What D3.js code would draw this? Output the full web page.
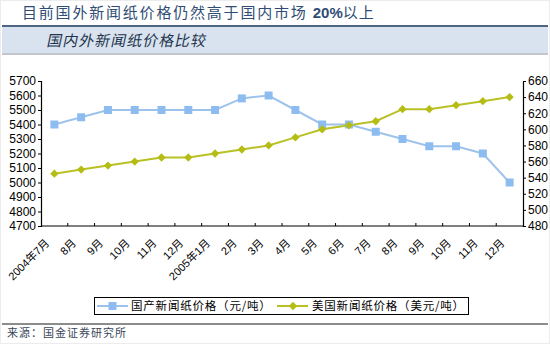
<!DOCTYPE html>
<html>
<head>
<meta charset="utf-8">
<script src="https://cdn.jsdelivr.net/npm/d3@7/dist/d3.min.js"></script>
<style>
  html, body { margin: 0; padding: 0; background: #fff; }
  svg { display: block; }
</style>
</head>
<body>
<svg id="chart" width="550" height="344"></svg>
<script>
// Newsprint prices, Jul 2004 – Dec 2005
const months = ["2004年7月", "8月", "9月", "10月", "11月", "12月",
  "2005年1月", "2月", "3月", "4月", "5月", "6月", "7月", "8月", "9月", "10月", "11月", "12月"];
// Domestic newsprint price (yuan / ton), left axis
const domesticPrice = [5400, 5450, 5500, 5500, 5500, 5500, 5500, 5580, 5600, 5500,
  5400, 5400, 5350, 5300, 5250, 5250, 5200, 5000];
// US newsprint price (USD / ton), right axis
const usPrice = [545, 550, 555, 560, 565, 565, 570, 575, 580, 590,
  600, 605, 610, 625, 625, 630, 635, 640];
const leftTicks = d3.range(4700, 5701, 100);
const rightTicks = d3.range(480, 661, 20);
const seriesNames = ["国产新闻纸价格（元/吨）", "美国新闻纸价格（美元/吨）"];

const svg = d3.select("#chart");
const W = 550, H = 344;
const cjk = "'Noto Sans CJK SC', 'Noto Sans', sans-serif";
const latin = "'Liberation Sans', Arial, 'Noto Sans CJK SC', sans-serif";

// Page frame
svg.append("rect").attr("x", 0.5).attr("y", 0.5).attr("width", W - 1).attr("height", H - 1)
  .attr("fill", "#fff").attr("stroke", "#ececec");

// Heading
const head = svg.append("text").attr("x", 22).attr("y", 18)
  .attr("font-family", cjk).attr("font-size", 15).attr("letter-spacing", 1.8)
  .attr("fill", "#2f4d74");
head.append("tspan").text("目前国外新闻纸价格仍然高于国内市场 ");
head.append("tspan").attr("font-family", latin).attr("font-weight", "bold").attr("letter-spacing", 0).text("20%");
head.append("tspan").attr("letter-spacing", 1).text("以上");

svg.append("rect").attr("x", 2).attr("y", 25).attr("width", W - 4).attr("height", 2).attr("fill", "#4f6682");
svg.append("rect").attr("x", 2).attr("y", 27).attr("width", W - 4).attr("height", 26).attr("fill", "#d8e3ef");
svg.append("rect").attr("x", 2).attr("y", 53).attr("width", W - 4).attr("height", 2).attr("fill", "#c3c6ca");
svg.append("text").attr("x", 47).attr("y", 46)
  .attr("font-family", cjk).attr("font-size", 15)
  .attr("letter-spacing", 1).attr("fill", "#24344c")
  .attr("transform", "translate(9,0) skewX(-12)")
  .text("国内外新闻纸价格比较");

// Plot geometry
const plot = { l: 41, r: 523, t: 81, b: 226 };

const x = d3.scaleBand().domain(d3.range(months.length)).range([plot.l, plot.r]);
const yL = d3.scaleLinear().domain([4700, 5700]).range([plot.b, plot.t]);
const yR = d3.scaleLinear().domain([480, 660]).range([plot.b, plot.t]);
const cx = i => x(i) + x.bandwidth() / 2;

// Left axis
const axL = svg.append("g").attr("transform", `translate(${plot.l},0)`)
  .call(d3.axisLeft(yL).tickValues(leftTicks).tickSize(3).tickPadding(2).tickFormat(d3.format("d")));
// Right axis
const axR = svg.append("g").attr("transform", `translate(${plot.r},0)`)
  .call(d3.axisRight(yR).tickValues(rightTicks).tickSize(3).tickPadding(2).tickFormat(d3.format("d")));
[axL, axR].forEach(g => {
  g.select(".domain").attr("stroke", "#000").attr("stroke-width", 1.2);
  g.selectAll(".tick line").attr("stroke", "#000");
  g.selectAll(".tick text").attr("font-family", latin).attr("font-size", 12).attr("fill", "#000");
});

// Category axis: inward ticks at band boundaries
const xg = svg.append("g");
xg.append("line").attr("x1", plot.l).attr("x2", plot.r).attr("y1", plot.b).attr("y2", plot.b)
  .attr("stroke", "#000").attr("stroke-width", 1.2);
xg.selectAll("line.tk").data(d3.range(1, months.length)).join("line").attr("class", "tk")
  .attr("x1", i => x(i)).attr("x2", i => x(i))
  .attr("y1", plot.b).attr("y2", plot.b - 3).attr("stroke", "#000");
xg.selectAll("text").data(months).join("text")
  .attr("transform", (d, i) => `translate(${cx(i) - 7},${plot.b + 15}) rotate(-45)`)
  .attr("text-anchor", "end").attr("dy", "0.35em")
  .attr("font-family", latin).attr("font-size", 11).attr("fill", "#000")
  .text(d => d);

// Series
const blueLine = "#9ec3ea", blueMark = "#8dbdf0";
const greenLine = "#b9c124", greenMark = "#b5bd14";

svg.append("path").datum(domesticPrice)
  .attr("fill", "none").attr("stroke", blueLine).attr("stroke-width", 2)
  .attr("d", d3.line().x((d, i) => cx(i)).y(d => yL(d)));
svg.append("path").datum(usPrice)
  .attr("fill", "none").attr("stroke", greenLine).attr("stroke-width", 2)
  .attr("d", d3.line().x((d, i) => cx(i)).y(d => yR(d)));

svg.selectAll("rect.dom").data(domesticPrice).join("rect").attr("class", "dom")
  .attr("x", (d, i) => cx(i) - 4).attr("y", d => yL(d) - 4)
  .attr("width", 8).attr("height", 8).attr("fill", blueMark);

const diamond = d3.symbol().type(d3.symbolDiamond2).size(44);
svg.selectAll("path.us").data(usPrice).join("path").attr("class", "us")
  .attr("transform", (d, i) => `translate(${cx(i)},${yR(d)})`)
  .attr("d", diamond).attr("fill", greenMark);

// Legend
const lg = svg.append("g");
lg.append("rect").attr("x", 94.5).attr("y", 297.5).attr("width", 374).attr("height", 17)
  .attr("fill", "#fff").attr("stroke", "#000");
const items = [
  { x0: 97, color: blueLine, mark: "sq", fill: blueMark, tx: 131 },
  { x0: 277, color: greenLine, mark: "dia", fill: greenMark, tx: 312 }
];
items.forEach((it, k) => {
  const cy = 306;
  lg.append("line").attr("x1", it.x0).attr("x2", it.x0 + 31).attr("y1", cy).attr("y2", cy)
    .attr("stroke", it.color).attr("stroke-width", 2);
  if (it.mark === "sq") {
    lg.append("rect").attr("x", it.x0 + 15.5 - 4).attr("y", cy - 4).attr("width", 8).attr("height", 8).attr("fill", it.fill);
  } else {
    lg.append("path").attr("transform", `translate(${it.x0 + 16},${cy})`).attr("d", diamond).attr("fill", it.fill);
  }
  lg.append("text").attr("x", it.tx).attr("y", cy).attr("dy", "0.36em")
    .attr("font-family", cjk).attr("font-size", 11.5).attr("letter-spacing", 0.8).attr("fill", "#000")
    .text(seriesNames[k]);
});

// Footer
svg.append("rect").attr("x", 2).attr("y", 323).attr("width", W - 4).attr("height", 2).attr("fill", "#8c8c8c");
svg.append("text").attr("x", 7).attr("y", 333).attr("dy", "0.35em")
  .attr("font-family", cjk).attr("font-size", 11).attr("letter-spacing", 1).attr("fill", "#3a4658")
  .text("来源：国金证券研究所");
</script>
</body>
</html>
